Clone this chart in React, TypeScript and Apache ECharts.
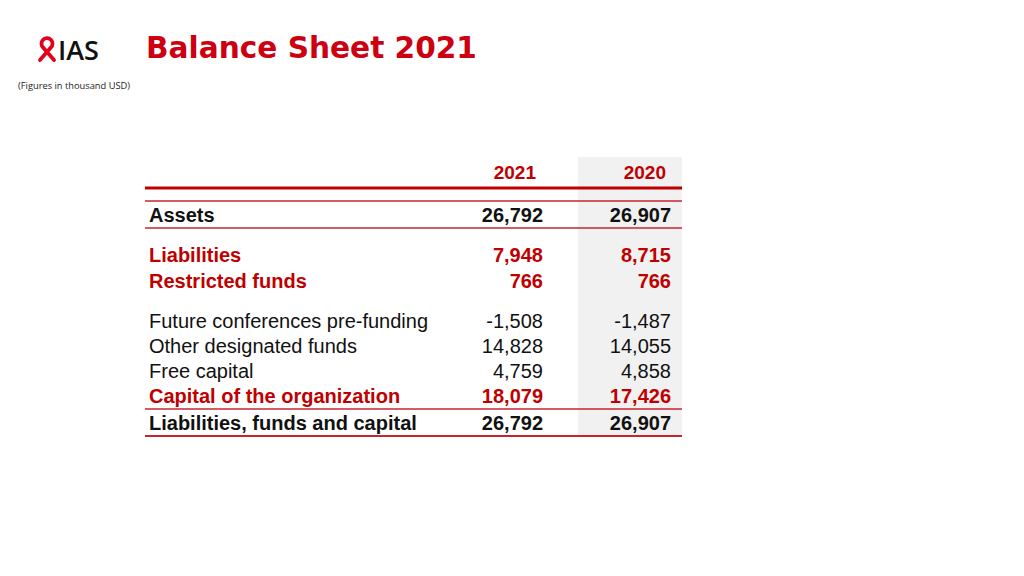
import React, { useEffect, useRef } from "react";
import * as echarts from "echarts";

const titleText = "Balance Sheet 2021";
const logoText = "IAS";
const noteText = "(Figures in thousand USD)";
const years = ["2021", "2020"];
const rowLabels = [
  "Assets",
  "Liabilities",
  "Restricted funds",
  "Future conferences pre-funding",
  "Other designated funds",
  "Free capital",
  "Capital of the organization",
  "Liabilities, funds and capital",
];
const values2021 = [26792, 7948, 766, -1508, 14828, 4759, 18079, 26792];
const values2020 = [26907, 8715, 766, -1487, 14055, 4858, 17426, 26907];

const RED = "#c00000";
const LINE_RED = "#c4262e";
const BLACK = "#111111";
const TABLE_FONT = "'Liberation Sans', Arial, sans-serif";

echarts.graphic.registerShape(
  "ribbon",
  echarts.graphic.extendPath("M3,23 L13.8,10.6 A5.5,5.5 0 1,0 6.2,10.6 L17,23", {})
);

function fmt(n: number) {
  return n.toLocaleString("en-US");
}

function rowStyle(i: number) {
  if (i === 1 || i === 2 || i === 6) return { fill: RED, weight: "bold" };
  if (i === 0 || i === 7) return { fill: BLACK, weight: "bold" };
  return { fill: BLACK, weight: "normal" };
}

function text(x: number, y: number, t: string, o: any) {
  return {
    type: "text",
    x,
    y,
    silent: true,
    style: {
      text: t,
      fill: o.fill,
      fontSize: o.size,
      fontWeight: o.weight || "normal",
      fontFamily: o.family || TABLE_FONT,
      textAlign: o.align || "left",
      align: o.align || "left",
      textVerticalAlign: "middle",
      verticalAlign: "middle",
    },
  };
}

function hline(x1: number, x2: number, y: number, w: number, c: string) {
  return {
    type: "line",
    silent: true,
    shape: { x1, y1: y, x2, y2: y },
    style: { stroke: c, lineWidth: w },
  };
}

export default function App() {
  const ref = useRef<HTMLDivElement>(null);
  useEffect(() => {
    if (!ref.current) return;
    const chart = echarts.init(ref.current, undefined, { renderer: "svg" });

    const rowY = [215, 255, 281, 321, 346, 371, 396, 423];
    const labelX = 149;
    const col2021X = 543;
    const col2020X = 671;
    const tableL = 145;
    const tableR = 682;

    const elements: any[] = [];
    elements.push({
      type: "rect",
      silent: true,
      shape: { x: 578, y: 157, width: tableR - 578, height: 280 },
      style: { fill: "#f1f1f1" },
    });
    elements.push({
      type: "ribbon",
      x: 37,
      y: 37,
      silent: true,
      style: { fill: "none", stroke: "#e3001b", lineWidth: 3.8, lineCap: "round" },
    });
    elements.push(
      text(58, 49, logoText, {
        fill: BLACK,
        size: 27,
        weight: 600,
        family: "'Open Sans', Lato, sans-serif",
      })
    );
    elements.push(
      text(146, 48, titleText, {
        fill: "#cc0011",
        size: 29.6,
        weight: "bold",
        family: "'DejaVu Sans', Verdana, sans-serif",
      })
    );
    elements.push(
      text(18, 85, noteText, {
        fill: "#222",
        size: 9.3,
        family: "'Open Sans', sans-serif",
      })
    );
    elements.push(text(536, 172, years[0], { fill: RED, size: 19, weight: "bold", align: "right" }));
    elements.push(text(666, 172, years[1], { fill: RED, size: 19, weight: "bold", align: "right" }));
    elements.push(hline(tableL, tableR, 188, 3, RED));
    elements.push(hline(tableL, tableR, 201, 1.5, LINE_RED));
    elements.push(hline(tableL, tableR, 228, 1.5, LINE_RED));
    elements.push(hline(tableL, tableR, 409, 1.5, LINE_RED));
    elements.push(hline(tableL, tableR, 436, 2, LINE_RED));
    rowLabels.forEach((lab, i) => {
      const s = rowStyle(i);
      const y = rowY[i];
      elements.push(text(labelX, y, lab, { fill: s.fill, size: 20, weight: s.weight }));
      elements.push(text(col2021X, y, fmt(values2021[i]), { fill: s.fill, size: 20, weight: s.weight, align: "right" }));
      elements.push(text(col2020X, y, fmt(values2020[i]), { fill: s.fill, size: 20, weight: s.weight, align: "right" }));
    });

    chart.setOption({
      animation: false,
      backgroundColor: "#ffffff",
      graphic: { elements },
    });
    return () => chart.dispose();
  }, []);
  return (
    <div
      ref={ref}
      style={{ position: "fixed", left: 0, top: 0, width: 1024, height: 576 }}
    />
  );
}
